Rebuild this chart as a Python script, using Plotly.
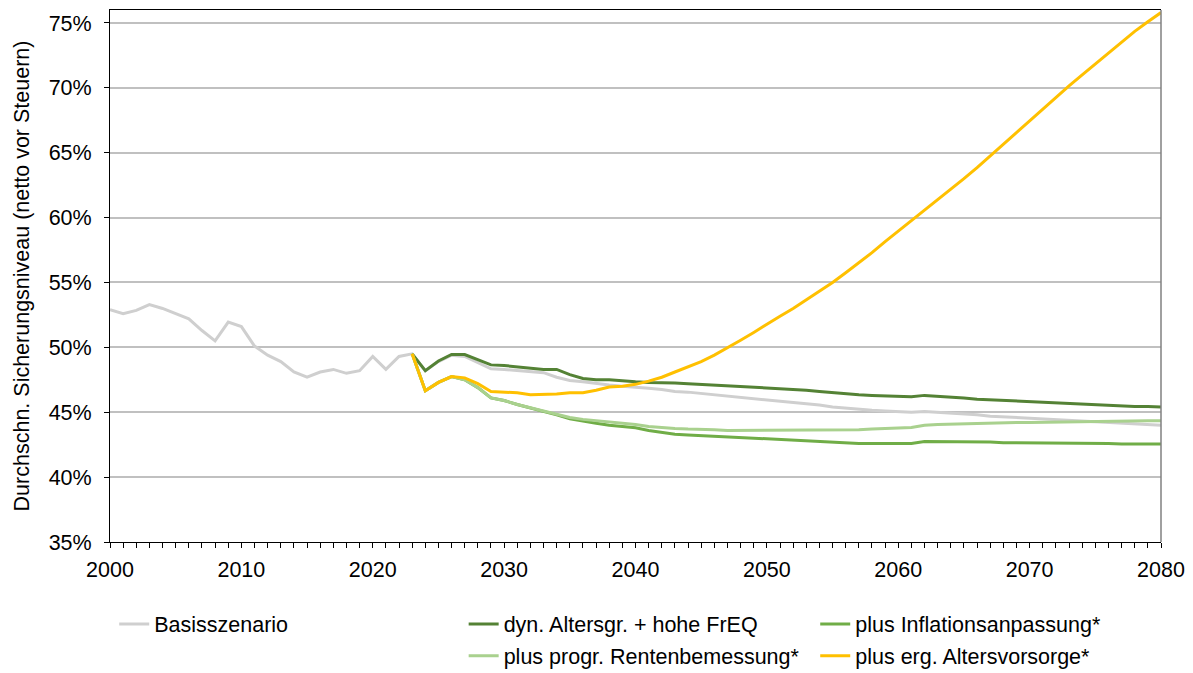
import plotly.graph_objects as go

# Jahre
years_hist = list(range(2000, 2081))
years_proj = list(range(2023, 2081))

# Basisszenario 2000-2080
basis = [52.9, 52.6, 52.85, 53.3, 53.0, 52.6, 52.2, 51.3, 50.5, 51.95,
         51.6, 50.1, 49.4, 48.9, 48.1, 47.7, 48.1, 48.3, 48.0, 48.2,
         49.3, 48.3, 49.3, 49.5,
         48.2, 48.9, 49.4, 49.3, 48.8,
         48.35, 48.3, 48.2, 48.15, 48.05,
         47.7, 47.45, 47.35, 47.2, 47.1,
         47.0, 46.95, 46.85, 46.75, 46.6,
         46.55, 46.45, 46.35, 46.25, 46.15,
         46.05, 46.0, 45.9, 45.8, 45.7,
         45.55, 45.4, 45.3, 45.2, 45.15,
         45.1, 45.05, 45.0, 45.05, 45.0,
         44.9, 44.85, 44.8, 44.7, 44.65,
         44.6, 44.55, 44.5, 44.45, 44.4,
         44.3, 44.25, 44.2, 44.15, 44.1,
         44.05, 44.0]

# dyn. Altersgr. + hohe FrEQ 2023-2080
dyn_freq = [49.5, 48.2, 48.95, 49.45, 49.45, 49.05, 48.65, 48.6, 48.5, 48.4,
            48.3, 48.3, 47.9, 47.6, 47.5, 47.5, 47.4, 47.35, 47.3, 47.3,
            47.25, 47.2, 47.15,
            47.1, 47.05, 47.0, 46.95, 46.9,
            46.85, 46.8, 46.7, 46.6, 46.5,
            46.4, 46.35, 46.3, 46.25, 46.25,
            46.2, 46.3, 46.25, 46.2, 46.1,
            46.0, 45.95, 45.9, 45.85, 45.8,
            45.75, 45.7, 45.65, 45.6, 45.55,
            45.5, 45.5, 45.45, 45.45, 45.4]

# plus Inflationsanpassung* 2023-2080
inflation = [49.5, 46.65, 47.3, 47.75, 47.5, 46.9, 46.1, 45.9, 45.6, 45.35,
             45.05, 44.8, 44.5, 44.3, 44.15, 44.0, 43.9, 43.8, 43.6, 43.45,
             43.3, 43.25, 43.2,
             43.15, 43.05, 43.0, 42.95, 42.9,
             42.85, 42.8, 42.75, 42.7, 42.65,
             42.6, 42.6, 42.6, 42.6, 42.6,
             42.6, 42.75, 42.75, 42.75, 42.7,
             42.7, 42.7, 42.65, 42.65, 42.65,
             42.65, 42.6, 42.6, 42.6, 42.6,
             42.6, 42.55, 42.55, 42.55, 42.55]

# plus progr. Rentenbemessung* 2023-2080
progr = [49.5, 46.65, 47.3, 47.75, 47.5, 46.9, 46.1, 45.9, 45.6, 45.35,
         45.05, 44.8, 44.6, 44.45, 44.35, 44.3, 44.2, 44.05, 43.9, 43.8,
         43.75, 43.7, 43.7,
         43.65, 43.6, 43.6, 43.6, 43.6,
         43.6, 43.6, 43.6, 43.6, 43.6,
         43.6, 43.65, 43.7, 43.72, 43.78,
         43.82, 44.0, 44.05, 44.08, 44.1,
         44.12, 44.15, 44.17, 44.2, 44.2,
         44.22, 44.25, 44.27, 44.28, 44.3,
         44.3, 44.32, 44.33, 44.35, 44.35]

# plus erg. Altersvorsorge* 2023-2080
vorsorge = [49.5, 46.65, 47.3, 47.75, 47.65, 47.2, 46.6, 46.55, 46.5, 46.35,
            46.35, 46.4, 46.5, 46.5, 46.7, 46.95, 47.0, 47.15, 47.4, 47.7,
            48.1, 48.5, 48.9,
            49.4, 49.95, 50.55, 51.15, 51.8,
            52.4, 53.0, 53.65, 54.3, 55.0,
            55.75, 56.5, 57.3, 58.15, 58.95,
            59.8, 60.6, 61.4, 62.2, 63.0,
            63.85, 64.75, 65.7, 66.6, 67.5,
            68.4, 69.3, 70.15, 71.0, 71.85,
            72.7, 73.55, 74.35, 75.1, 75.8]

y_ticks = [35, 40, 45, 50, 55, 60, 65, 70, 75]

FONT = "Liberation Sans, Arial, sans-serif"
FS = 21.5

fig = go.Figure()

# Reihenfolge der Linien wie im Original (gelb oben)
fig.add_trace(go.Scatter(x=years_hist, y=basis, name="Basisszenario", mode="lines",
                         line=dict(color="#cfcfcf", width=3), legend="legend"))
fig.add_trace(go.Scatter(x=years_proj, y=dyn_freq, name="dyn. Altersgr. + hohe FrEQ", mode="lines",
                         line=dict(color="#548235", width=3), legend="legend2"))
fig.add_trace(go.Scatter(x=years_proj, y=inflation, name="plus Inflationsanpassung*", mode="lines",
                         line=dict(color="#70ad47", width=3), legend="legend3"))
fig.add_trace(go.Scatter(x=years_proj, y=progr, name="plus progr. Rentenbemessung*", mode="lines",
                         line=dict(color="#a9d18e", width=3), legend="legend4"))
fig.add_trace(go.Scatter(x=years_proj, y=vorsorge, name="plus erg. Altersvorsorge*", mode="lines",
                         line=dict(color="#ffc000", width=3), legend="legend5"))

leg = dict(xanchor="left", yanchor="middle", orientation="h",
           font=dict(family=FONT, size=FS, color="#000000"),
           bgcolor="rgba(0,0,0,0)", borderwidth=0)

# die Seite hat 8px Rand, daher 1185x665
fig.update_layout(
    width=1185, height=665,
    margin=dict(l=102, r=32, t=2, b=131, autoexpand=False),
    paper_bgcolor="white", plot_bgcolor="white",
    font=dict(family=FONT, size=FS, color="#000000"),
    showlegend=True,
    legend=dict(leg, x=0.004, y=-0.154),
    legend2=dict(leg, x=0.3365, y=-0.154),
    legend3=dict(leg, x=0.671, y=-0.154),
    legend4=dict(leg, x=0.3365, y=-0.214),
    legend5=dict(leg, x=0.671, y=-0.214),
)

fig.update_xaxes(
    range=[2000, 2080], dtick=10, tick0=2000,
    showline=True, linecolor="#000000", linewidth=1, mirror=True,
    ticks="outside", ticklen=5, tickcolor="#000000",
    minor=dict(dtick=1, ticks="outside", ticklen=5, tickcolor="#000000", showgrid=False),
    showgrid=False, zeroline=False,
    tickfont=dict(size=FS), ticklabelstandoff=3,
)

fig.update_yaxes(
    range=[35, 76], tickvals=y_ticks, ticktext=[f"{v}%" for v in y_ticks],
    showline=True, linecolor="#000000", linewidth=1,
    ticks="outside", ticklen=5, tickcolor="#000000",
    showgrid=True, gridcolor="#c0c0c0", gridwidth=1.5, zeroline=False,
    tickfont=dict(size=FS), ticklabelstandoff=8,
    title=dict(text="Durchschn. Sicherungsniveau (netto vor Steuern)", font=dict(size=FS), standoff=13),
)

# rechter Rahmen in grau
fig.add_shape(type="line", xref="paper", yref="paper", x0=1, x1=1, y0=0, y1=1,
              line=dict(color="#808080", width=1.5))

fig.write_html("out.html")
